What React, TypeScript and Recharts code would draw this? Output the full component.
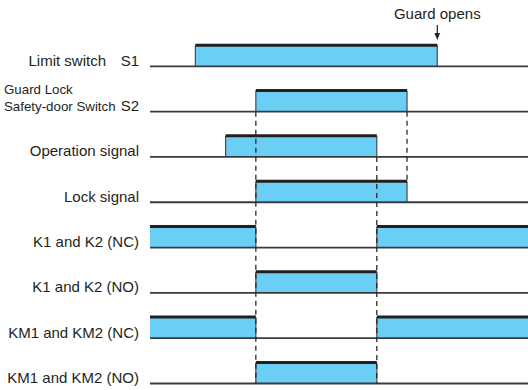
import React from "react";
import { ComposedChart, XAxis, YAxis, ReferenceArea, ReferenceLine, Line } from "recharts";

// ---- data ----
const signalNames = [
  "Limit switch",
  "Safety-door Switch",
  "Operation signal",
  "Lock signal",
  "K1 and K2 (NC)",
  "K1 and K2 (NO)",
  "KM1 and KM2 (NC)",
  "KM1 and KM2 (NO)",
];
const signalPrefix = ["", "Guard Lock", "", "", "", "", "", ""];
const signalTags = ["S1", "S2", "", "", "", "", "", ""];
const signalLevels = [7, 6, 5, 4, 3, 2, 1, 0];
const onStart = [1.5, 3.5, 2.5, 3.5, 0, 3.5, 0, 3.5];
const onEnd = [9.5, 8.5, 7.5, 8.5, 3.5, 7.5, 3.5, 7.5];
const secondOnStart: (number | null)[] = [null, null, null, null, 7.5, null, 7.5, null];
const secondOnEnd: (number | null)[] = [null, null, null, null, 12.5, null, 12.5, null];
const timeStart = 0;
const timeEnd = 12.5;
const pulseHigh = 0.465;
const dashTimes = [3.5, 7.5, 8.5];
const dashTopLevels = [6, 5, 6];
const dashBottomLevels = [0, 0, 4.465];
const guardOpensTime = 9.5;
const guardArrowLevels = [7.912, 7.581];
const annotationText = "Guard opens";

// ---- styles ----
const FONT = "'Liberation Sans', Arial, Helvetica, sans-serif";
const INK = "#231f20";
const BLUE = "#6bcff5";

const SignalTick = (props: any) => {
  const { x, y, payload } = props;
  const i = signalLevels.indexOf(payload.value);
  if (i < 0) return null;
  const name = signalNames[i];
  const tag = signalTags[i];
  const prefix = signalPrefix[i];
  const base = y - 0.5;
  if (prefix) {
    return (
      <g fontFamily={FONT} fill={INK}>
        <text x={x - 135} y={base - 17.5} fontSize={13.3} textAnchor="start">
          {prefix}
        </text>
        <text x={x - 135} y={base} fontSize={13.3} textAnchor="start">
          {name}
        </text>
        <text x={x} y={base} fontSize={15} textAnchor="end">
          {tag}
        </text>
      </g>
    );
  }
  if (tag) {
    return (
      <g fontFamily={FONT} fill={INK}>
        <text x={x - 33} y={base} fontSize={15} textAnchor="end">
          {name}
        </text>
        <text x={x} y={base} fontSize={15} textAnchor="end">
          {tag}
        </text>
      </g>
    );
  }
  return (
    <text x={x} y={base} fontSize={15} textAnchor="end" fontFamily={FONT} fill={INK}>
      {name}
    </text>
  );
};

const makePulseShape = (leftEdge: boolean, rightEdge: boolean) => (p: any) => {
  const { x, y, width, height } = p;
  return (
    <g>
      <rect x={x} y={y} width={width} height={height} fill={BLUE} stroke="none" />
      {leftEdge && <line x1={x} y1={y} x2={x} y2={y + height} stroke="#4a4a4a" strokeWidth={1.2} />}
      {rightEdge && (
        <line x1={x + width} y1={y} x2={x + width} y2={y + height} stroke="#4a4a4a" strokeWidth={1.2} />
      )}
      <line x1={x} y1={y} x2={x + width} y2={y} stroke={INK} strokeWidth={3} />
    </g>
  );
};

const ArrowShape = (p: any) => {
  const { x1, y1, x2, y2 } = p;
  const top = Math.min(y1, y2);
  const tip = Math.max(y1, y2);
  return (
    <g>
      <line x1={x1} y1={top} x2={x2} y2={tip - 5} stroke={INK} strokeWidth={1.2} />
      <polygon points={`${x2 - 2.8},${tip - 7} ${x2 + 2.8},${tip - 7} ${x2},${tip}`} fill={INK} />
      <text x={x1} y={top - 6} textAnchor="middle" fontSize={15} fontFamily={FONT} fill={INK}>
        {annotationText}
      </text>
    </g>
  );
};

const frameData = [
  { t: timeStart, v: 0 },
  { t: timeEnd, v: 0 },
];

export default function App() {
  const pulses: any[] = [];
  signalLevels.forEach((lvl, i) => {
    pulses.push({ lvl, s: onStart[i], e: onEnd[i], key: `p1-${i}` });
    if (secondOnStart[i] !== null && secondOnEnd[i] !== null) {
      pulses.push({ lvl, s: secondOnStart[i], e: secondOnEnd[i], key: `p2-${i}` });
    }
  });

  return (
    <div style={{ position: "absolute", left: 0, top: 0, width: 528, height: 390, background: "#fff" }}>
      <ComposedChart
        width={528}
        height={390}
        data={frameData}
        margin={{ top: 21, right: 0, bottom: 6.5, left: 0 }}
      >
        <XAxis type="number" dataKey="t" domain={[timeStart, timeEnd]} hide />
        <YAxis
          type="number"
          domain={[0, 8]}
          ticks={signalLevels}
          width={150}
          axisLine={false}
          tickLine={false}
          tickSize={0}
          tickMargin={11}
          tick={(props: any) => <SignalTick {...props} />}
          interval={0}
        />
        {pulses.map((p) => (
          <ReferenceArea
            key={p.key}
            x1={p.s}
            x2={p.e}
            y1={p.lvl}
            y2={p.lvl + pulseHigh}
            shape={makePulseShape(p.s > timeStart, p.e < timeEnd)}
            ifOverflow="visible"
          />
        ))}
        {signalLevels.map((lvl) => (
          <ReferenceLine
            key={`base-${lvl}`}
            segment={[
              { x: timeStart, y: lvl },
              { x: timeEnd, y: lvl },
            ]}
            stroke="#3a3a3a"
            strokeWidth={1.8}
            ifOverflow="visible"
          />
        ))}
        {dashTimes.map((t, i) => (
          <ReferenceLine
            key={`dash-${i}`}
            segment={[
              { x: t, y: dashTopLevels[i] },
              { x: t, y: dashBottomLevels[i] },
            ]}
            stroke="#2a2a2a"
            strokeWidth={1.3}
            strokeDasharray="5 4"
            ifOverflow="visible"
          />
        ))}
        <ReferenceLine
          segment={[
            { x: guardOpensTime, y: guardArrowLevels[0] },
            { x: guardOpensTime, y: guardArrowLevels[1] },
          ]}
          shape={ArrowShape}
          ifOverflow="visible"
        />
        <Line dataKey="v" stroke="none" dot={false} isAnimationActive={false} />
      </ComposedChart>
    </div>
  );
}
